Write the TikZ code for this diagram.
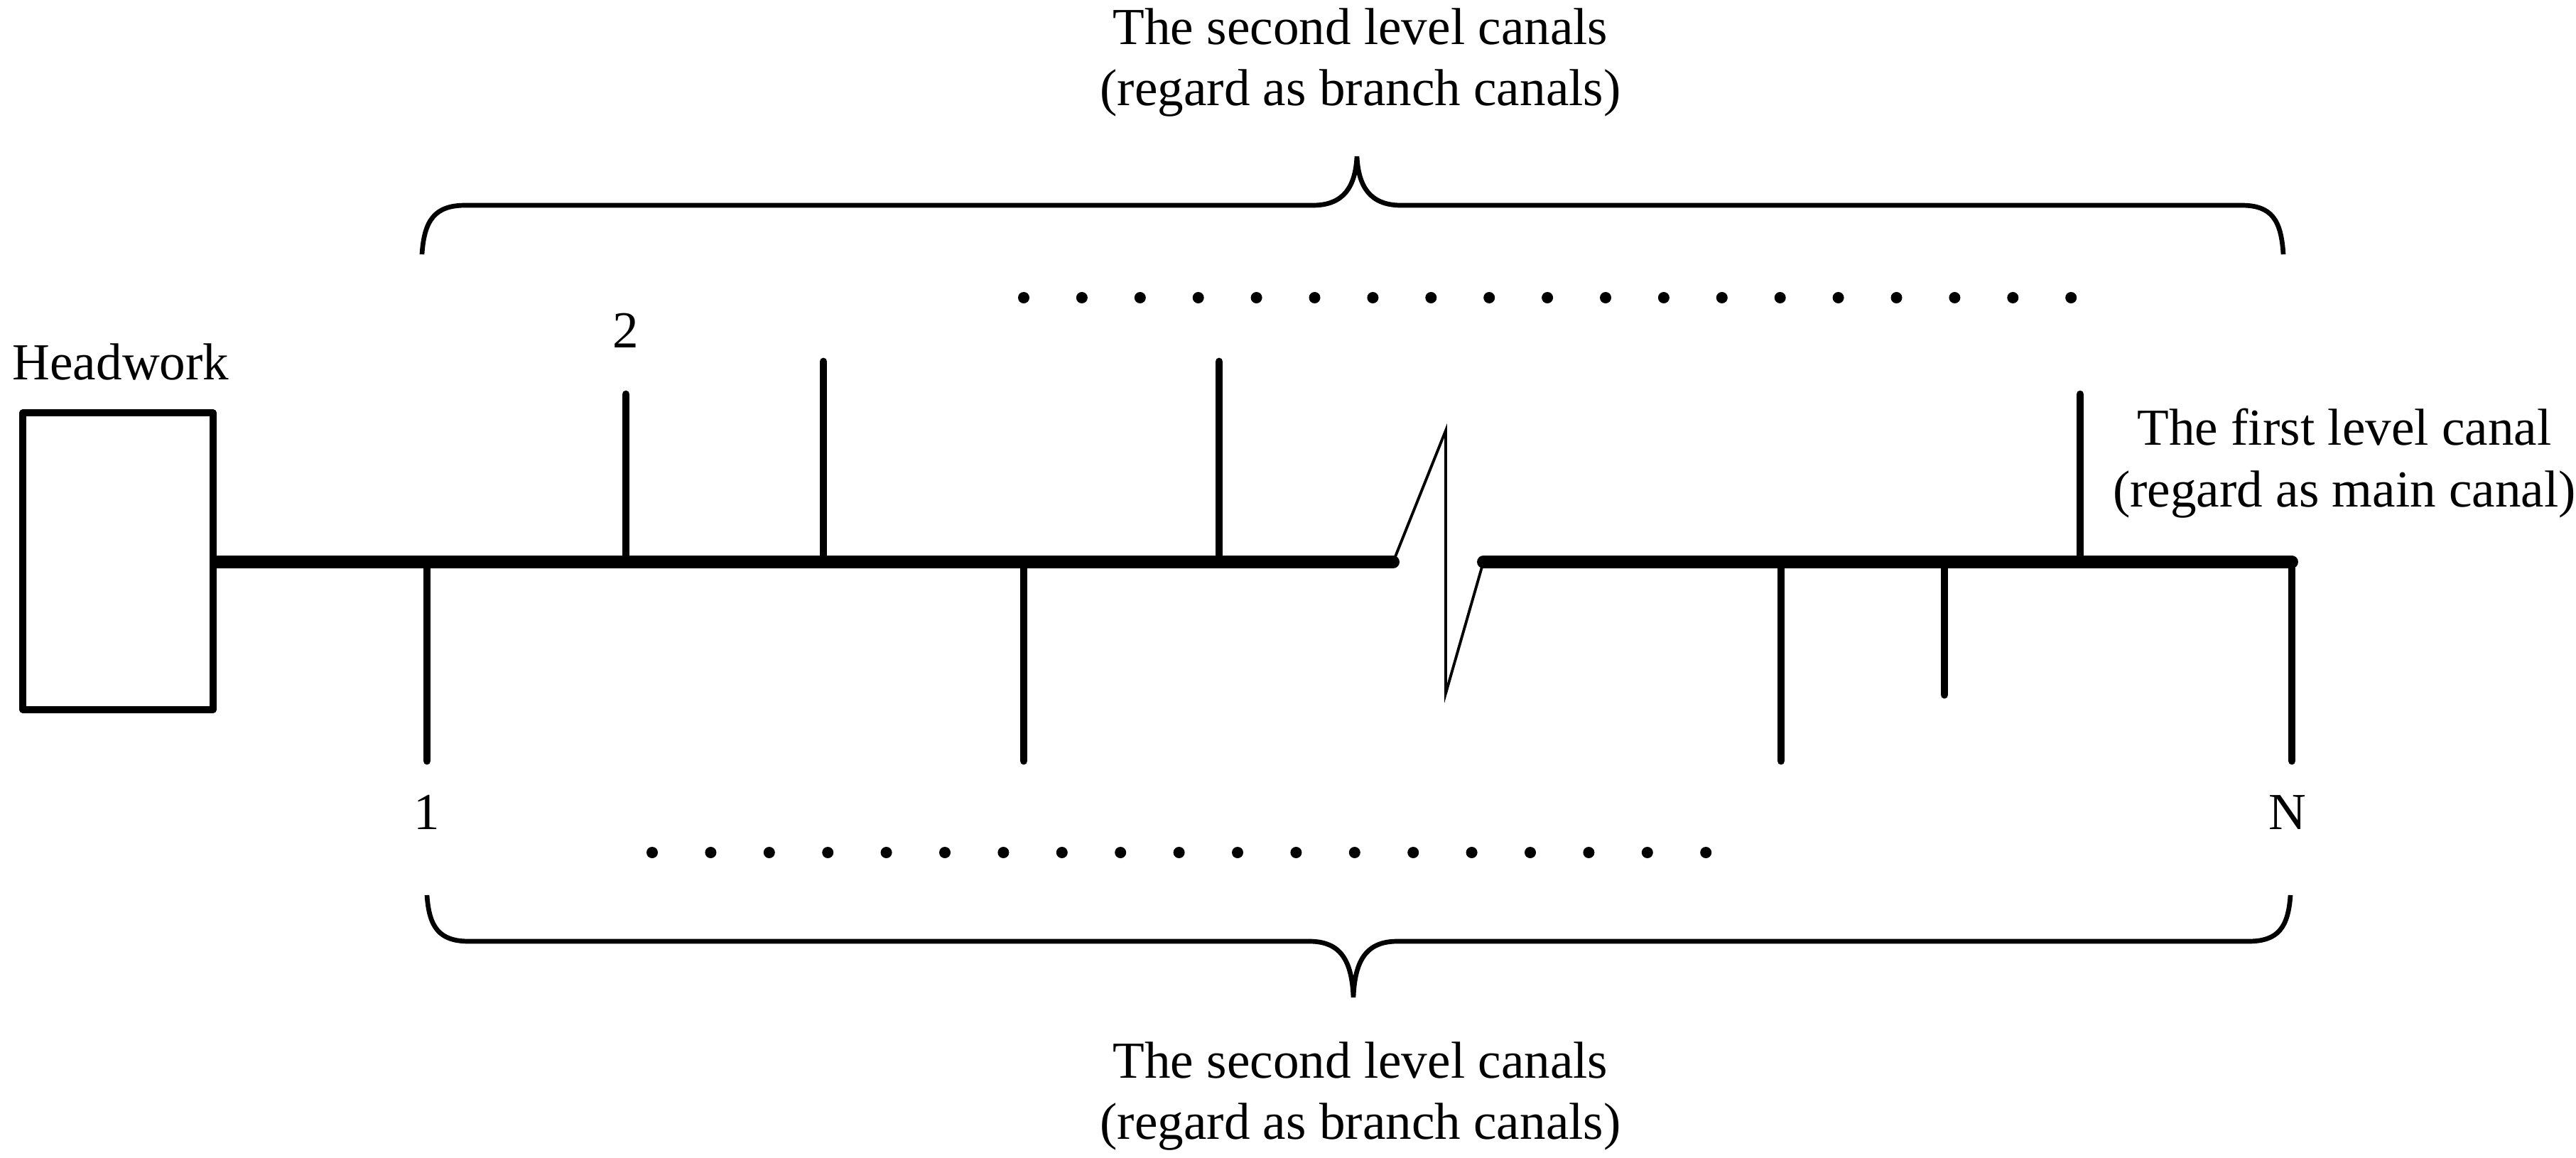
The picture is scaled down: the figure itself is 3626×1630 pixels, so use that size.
\documentclass[tikz,border=0pt]{standalone}
\usepackage{fontspec}
\setmainfont{Liberation Serif}
\begin{document}
\begin{tikzpicture}[x=0.01cm,y=-0.01cm,
  mainline/.style={line width=5.1pt, line cap=round},
  branch/.style={line width=3.1pt, line cap=round},
  thinline/.style={line width=1.1pt, line join=miter},
  hwbox/.style={draw, line width=2.85pt, line join=round, rectangle, inner sep=0pt, minimum width=2.68cm, minimum height=4.17cm},
  brace/.style={line width=1.9pt},
  lbl/.style={font=\fontsize{20.8}{24.6}\selectfont, inner sep=0pt, align=center},
  dotmark/.style={circle, fill, inner sep=0pt, minimum size=0.16cm}]
\useasboundingbox (0,0) rectangle (3626,1630);

% headwork
\node[hwbox] (hw) at (166,790) {};
\node[lbl, anchor=base] (hwlbl) at (170,534) {Headwork};

% main canal coordinates
\coordinate (brkL) at (1961,791);
\coordinate (zt) at (2035,606);
\coordinate (zb) at (2035,976);
\coordinate (brkR) at (2088,791);
\coordinate (endN) at (3226,791);

\draw[mainline] (hw.east |- brkL) -- (brkL);
\draw[mainline] (brkR) -- (endN);
\draw[thinline] (brkL) -- (zt) -- (zb) -- (brkR);

% upward branches
\foreach \x/\t [count=\i] in {881/555, 1159/509, 1716/509, 2928/555}{
  \coordinate (ub\i) at (\x,791);
  \coordinate (ue\i) at (\x,\t);
  \draw[branch] (ub\i) -- (ue\i);
}
% downward branches
\foreach \x/\b [count=\i] in {601/1071, 1441/1071, 2507/1071, 2737/978}{
  \coordinate (db\i) at (\x,791);
  \coordinate (de\i) at (\x,\b);
  \draw[branch] (db\i) -- (de\i);
}
\coordinate (deN) at (3226,1071);
\draw[branch] (endN) -- (deN);

% numbers
\node[lbl, anchor=base] (n2) at (881,489) {2};
\node[lbl, anchor=base] (n1) at (601,1167) {1};
\node[lbl, anchor=base] (nN) at (3220,1167) {N};

% main canal label
\node[lbl] (mainlbl) at (3300,652) {The first level canal\\(regard as main canal)};

% dots
\foreach \i in {0,...,18}{
  \node[dotmark] (td\i) at ({1441+\i*81.9},419) {};
  \node[dotmark] (bd\i) at ({918+\i*82.4},1200) {};
}

% top brace
\draw[brace] (594,358) .. controls (597,310) and (612,289) .. (655,289)
  -- (1848,289) .. controls (1892,289) and (1908,262) .. (1910,220)
  .. controls (1912,262) and (1928,289) .. (1972,289)
  -- (3155,289) .. controls (3198,289) and (3211,310) .. (3214,358);
% bottom brace
\draw[brace] (601,1260) .. controls (604,1305) and (618,1325) .. (660,1325)
  -- (1843,1325) .. controls (1887,1325) and (1903,1352) .. (1905,1404)
  .. controls (1907,1352) and (1923,1325) .. (1967,1325)
  -- (3165,1325) .. controls (3207,1325) and (3221,1305) .. (3224,1260);

% brace labels
\node[lbl] (toplbl) at (1915,88) {The second level canals\\(regard as branch canals)};
\node[lbl] (botlbl) at (1915,1543) {The second level canals\\(regard as branch canals)};
\end{tikzpicture}
\end{document}
